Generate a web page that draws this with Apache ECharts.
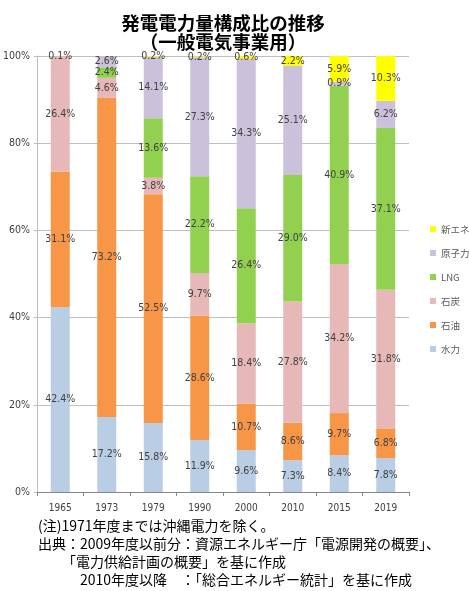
<!DOCTYPE html>
<html><head><meta charset="utf-8">
<script src="https://cdn.jsdelivr.net/npm/echarts@6/dist/echarts.min.js"></script>
<style>html,body{margin:0;padding:0;background:#fff;}#c{width:469px;height:591px;}</style>
</head><body><div id="c"></div>
<script>
const categories = ['1965','1973','1979','1990','2000','2010','2015','2019'];
const hydro   = [42.4, 17.2, 15.8, 11.9,  9.6,  7.3,  8.4,  7.8];
const oil     = [31.1, 73.2, 52.5, 28.6, 10.7,  8.6,  9.7,  6.8];
const coal    = [26.4,  4.6,  3.8,  9.7, 18.4, 27.8, 34.2, 31.8];
const lng     = [ 0,    2.4, 13.6, 22.2, 26.4, 29.0, 40.9, 37.1];
const nuclear = [ 0.1,  2.6, 14.1, 27.3, 34.3, 25.1,  0.9,  6.2];
const newEn   = [ 0,    0,    0.2,  0.2,  0.6,  2.2,  5.9, 10.3];
const yTicks = [0, 20, 40, 60, 80, 100];

const seriesDefs = [
  ['水力', hydro, '#b9cde5'],
  ['石油', oil, '#f79646'],
  ['石炭', coal, '#e6b9b8'],
  ['LNG', lng, '#92d050'],
  ['原子力', nuclear, '#ccc1da'],
  ['新エネ', newEn, '#ffff00']
];
const narrow = "'Liberation Sans Narrow','DejaVu Sans Condensed','Roboto',sans-serif";
const jp = "'Noto Sans CJK JP',sans-serif";

const chart = echarts.init(document.getElementById('c'), null, {renderer:'canvas'});
chart.setOption({
  animation: false,
  backgroundColor: '#fff',
  title: {
    text: '発電電力量構成比の推移\n（一般電気事業用）',
    left: 218, top: 8, textAlign: 'center',
    textStyle: {fontFamily: jp, fontSize: 18.5, fontWeight: 'bold', color: '#000', lineHeight: 19}
  },
  legend: {
    orient: 'vertical', left: 425, top: 217,
    itemWidth: 6, itemHeight: 6, itemGap: 10, icon: 'rect',
    data: ['新エネ','原子力','LNG','石炭','石油','水力'],
    textStyle: {fontFamily: jp, fontSize: 9.5, color: '#595959', lineHeight: 14}
  },
  grid: {left: 35, right: 60, top: 56, bottom: 99},
  xAxis: {
    type: 'category', data: categories,
    axisLine: {lineStyle: {color: '#868686'}},
    axisTick: {show: true, length: 4, alignWithLabel: false, lineStyle: {color: '#868686'}},
    axisLabel: {fontFamily: narrow, fontSize: 10, color: '#404040', margin: 11}
  },
  yAxis: {
    type: 'value', min: 0, max: 100, interval: 20,
    axisLine: {show: true, lineStyle: {color: '#bfbfbf'}},
    axisTick: {show: true, length: 3, lineStyle: {color: '#bfbfbf'}},
    splitLine: {lineStyle: {color: '#bfbfbf'}},
    axisLabel: {fontFamily: narrow, fontSize: 10.5, color: '#404040', margin: 7,
      formatter: v => yTicks.includes(v) ? v + '%' : ''}
  },
  series: seriesDefs.map(([name, data, color]) => ({
    name, type: 'bar', stack: 'total', barWidth: 19,
    data,
    itemStyle: {color},
    label: {
      show: true, position: 'inside',
      fontFamily: narrow, fontSize: 10.5, color: '#404040',
      formatter: p => p.value > 0 ? p.value.toFixed(1) + '%' : ''
    }
  })),
  graphic: [
    {type: 'text', left: 38, top: 519, style: {text: '(注)1971年度までは沖縄電力を除く。', font: '14px ' + jp, fill: '#000'}},
    {type: 'text', left: 38, top: 537, style: {text: '出典：2009年度以前分：資源エネルギー庁「電源開発の概要」、', font: '14px ' + jp, fill: '#000'}},
    {type: 'text', left: 62, top: 555, style: {text: '「電力供給計画の概要」を基に作成', font: '14px ' + jp, fill: '#000'}},
    {type: 'text', left: 80, top: 573, style: {text: '2010年度以降　：「総合エネルギー統計」を基に作成', font: '14px ' + jp, fill: '#000'}}
  ]
});
</script></body></html>
